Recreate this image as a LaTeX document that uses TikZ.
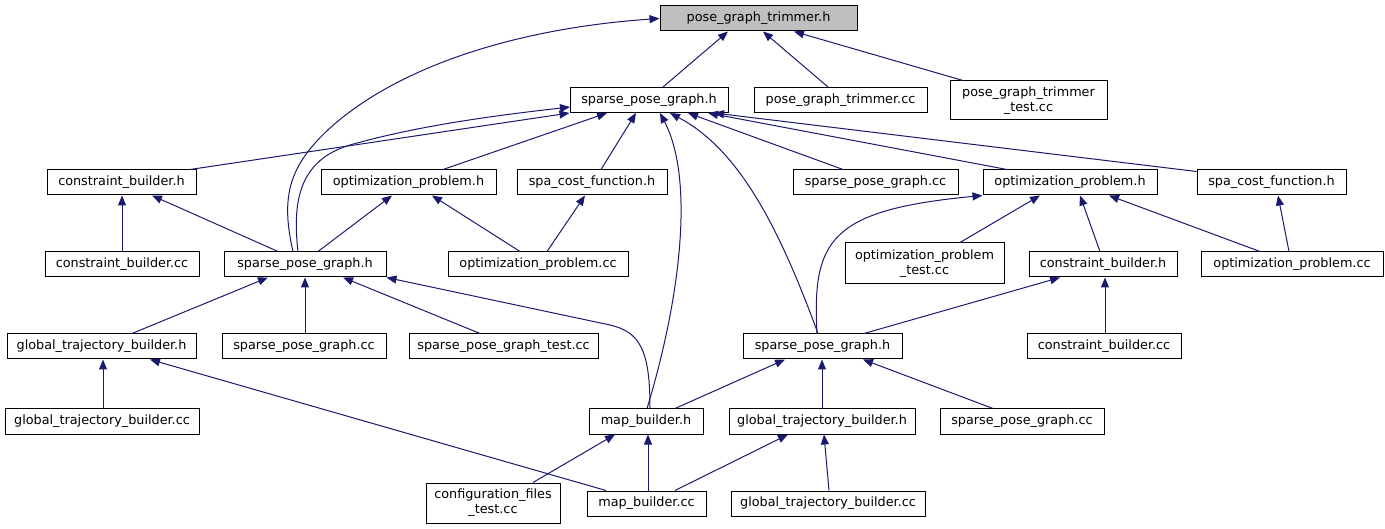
\documentclass[tikz,border=0pt]{standalone}
\usepackage{fontspec}
\setmainfont{DejaVu Sans}
\usetikzlibrary{arrows.meta}
\definecolor{edgec}{HTML}{191970}
\definecolor{hilite}{HTML}{BFBFBF}
\begin{document}
\begin{tikzpicture}[x=1pt,y=-1pt,
  box/.style={draw=black, line width=1pt, fill=white, inner sep=0pt, align=center,
    minimum height=25pt, font=\fontsize{12.8}{15}\selectfont},
  edge/.style={draw=edgec, line width=1pt, -{Triangle[length=10pt,width=8pt]}}]
\useasboundingbox (0,0) rectangle (1385,529);
% row 1
\node[box, fill=hilite, minimum width=197pt] (PGT) at (758.5,18.5) {pose\_graph\_trimmer.h};
% row 2
\node[box, minimum width=158pt] (A) at (649,100) {sparse\_pose\_graph.h};
\node[box, minimum width=173pt] (PGTcc) at (840.5,100) {pose\_graph\_trimmer.cc};
\node[box, minimum width=157pt, minimum height=39pt] (PGTtest) at (1028.5,100.5) {pose\_graph\_trimmer\\\_test.cc};
% row 3
\node[box, minimum width=149pt] (CBhL) at (121.5,182.5) {constraint\_builder.h};
\node[box, minimum width=175pt] (OPhL) at (408.5,182.5) {optimization\_problem.h};
\node[box, minimum width=150pt] (SCFhL) at (592,182.5) {spa\_cost\_function.h};
\node[box, minimum width=165pt] (SPGccT) at (875.5,182.5) {sparse\_pose\_graph.cc};
\node[box, minimum width=174pt] (OPhR) at (1070,182.5) {optimization\_problem.h};
\node[box, minimum width=149pt] (SCFhR) at (1271.5,182.5) {spa\_cost\_function.h};
% row 4
\node[box, minimum width=154pt] (CBccL) at (122,264.5) {constraint\_builder.cc};
\node[box, minimum width=162pt] (L2) at (305,264.5) {sparse\_pose\_graph.h};
\node[box, minimum width=180pt] (OPccL) at (538,264.5) {optimization\_problem.cc};
\node[box, minimum width=159pt, minimum height=41pt] (OPtest) at (924.5,263.5) {optimization\_problem\\\_test.cc};
\node[box, minimum width=148pt] (CBhR) at (1103,264.5) {constraint\_builder.h};
\node[box, minimum width=182pt] (OPccR) at (1292,264.5) {optimization\_problem.cc};
% row 5
\node[box, minimum width=189pt] (GTBhL) at (101.5,346.5) {global\_trajectory\_builder.h};
\node[box, minimum width=164pt] (SPGccL) at (304,346.5) {sparse\_pose\_graph.cc};
\node[box, minimum width=189pt] (SPGtest) at (503.5,346.5) {sparse\_pose\_graph\_test.cc};
\node[box, minimum width=159pt] (R2) at (822.5,346.5) {sparse\_pose\_graph.h};
\node[box, minimum width=154pt] (CBccR) at (1104,346.5) {constraint\_builder.cc};
% row 6
\node[box, minimum width=194pt] (GTBccL) at (102,421.5) {global\_trajectory\_builder.cc};
\node[box, minimum width=114pt] (MBh) at (646,421.5) {map\_builder.h};
\node[box, minimum width=186pt] (GTBhR) at (822,421.5) {global\_trajectory\_builder.h};
\node[box, minimum width=164pt] (SPGccR) at (1022,421.5) {sparse\_pose\_graph.cc};
% row 7
\node[box, minimum width=134pt, minimum height=40pt] (CFtest) at (493,503) {configuration\_files\\\_test.cc};
\node[box, minimum width=119pt] (MBcc) at (646.5,503.5) {map\_builder.cc};
\node[box, minimum width=194pt] (GTBccR) at (828,503.5) {global\_trajectory\_builder.cc};
% edges
\draw[edge] (663,0 |- A.north) -- (728,0 |- PGT.south);
\draw[edge] (828,0 |- PGTcc.north) -- (763,0 |- PGT.south);
\draw[edge] (963,0 |- PGTtest.north) -- (794,0 |- PGT.south);
\draw[edge] (293,0 |- L2.north) .. controls (280,195) and (290,165) .. (330,128) .. controls (400,65) and (520,28) .. (PGT.west);
\draw[edge] (298,0 |- L2.north) .. controls (292,200) and (300,160) .. (350,145) .. controls (420,125) and (500,115) .. (570,0 |- 0,107);
\draw[edge] (190,0 |- CBhL.north) -- (A.south west);
\draw[edge] (443,0 |- OPhL.north) -- (607,0 |- A.south);
\draw[edge] (601,0 |- SCFhL.north) -- (636,0 |- A.south);
\draw[edge] (647,0 |- MBh.north) .. controls (680,300) and (695,180) .. (660,0 |- A.south);
\draw[edge] (818,0 |- R2.north) .. controls (780,230) and (740,150) .. (670,0 |- A.south);
\draw[edge] (843,0 |- SPGccT.north) -- (688,0 |- A.south);
\draw[edge] (1007,0 |- OPhR.north) -- (708,0 |- A.south);
\draw[edge] ([yshift=-2pt]SCFhR.north west) -- (714,0 |- A.south);
\draw[edge] (122,0 |- CBccL.north) -- (122,0 |- CBhL.south);
\draw[edge] (278,0 |- L2.north) -- (152,0 |- CBhL.south);
\draw[edge] (318,0 |- L2.north) -- (392,0 |- OPhL.south);
\draw[edge] (520,0 |- OPccL.north) -- (432,0 |- OPhL.south);
\draw[edge] (547,0 |- OPccL.north) -- (585,0 |- SCFhL.south);
\draw[edge] (817,0 |- R2.north) .. controls (812,240) and (830,210) .. (OPhR.south west);
\draw[edge] (960,0 |- OPtest.north) -- (1040,0 |- OPhR.south);
\draw[edge] (1100,0 |- CBhR.north) -- (1080,0 |- OPhR.south);
\draw[edge] (1260,0 |- OPccR.north) -- (1109,0 |- OPhR.south);
\draw[edge] (1289,0 |- OPccR.north) -- (1278,0 |- SCFhR.south);
\draw[edge] (864,0 |- R2.north) -- (1060,0 |- CBhR.south);
\draw[edge] (1105,0 |- CBccR.north) -- (1105,0 |- CBhR.south);
\draw[edge] (132,0 |- GTBhL.north) -- (268,0 |- L2.south);
\draw[edge] (305,0 |- SPGccL.north) -- (305,0 |- L2.south);
\draw[edge] (480,0 |- SPGtest.north) -- (343,0 |- L2.south);
\draw[edge] (650,0 |- MBh.north) .. controls (650,350) and (640,332) .. (610,325) -- (L2.south east);
\draw[edge] (103,0 |- GTBccL.north) -- (103,0 |- GTBhL.south);
\draw[edge] (606,0 |- MBcc.north) -- (150,0 |- GTBhL.south);
\draw[edge] (675,0 |- MBh.north) -- (785,0 |- R2.south);
\draw[edge] (822,0 |- GTBhR.north) -- (822,0 |- R2.south);
\draw[edge] (993,0 |- SPGccR.north) -- (863,0 |- R2.south);
\draw[edge] (533,0 |- CFtest.north) -- (615,0 |- MBh.south);
\draw[edge] (648,0 |- MBcc.north) -- (648,0 |- MBh.south);
\draw[edge] (675,0 |- MBcc.north) -- (788,0 |- GTBhR.south);
\draw[edge] (829,0 |- GTBccR.north) -- (824,0 |- GTBhR.south);
\end{tikzpicture}
\end{document}
